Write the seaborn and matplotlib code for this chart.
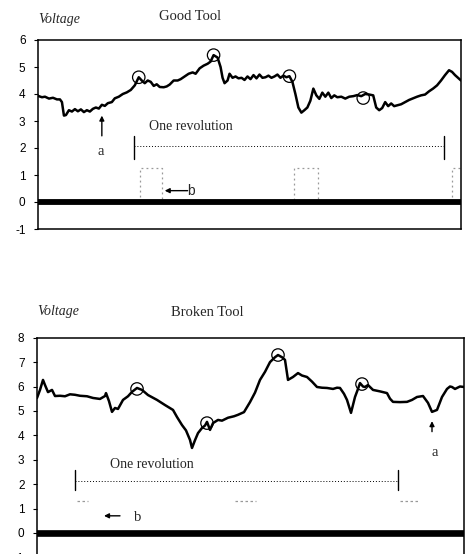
import numpy as np
import pandas as pd
import matplotlib
matplotlib.use("Agg")
import matplotlib.pyplot as plt
import seaborn as sns

# ---------------- data (sample index, voltage) ----------------
good_t = [38, 42, 45, 49, 53, 57, 60, 62, 64, 66, 69, 72, 75, 78, 81, 84, 87, 90, 93, 96,
          99, 102, 105, 108, 112, 115, 119, 123, 127, 131, 135, 139, 142, 145, 148, 151,
          154, 157, 160, 164, 167, 170, 174, 178, 181, 185, 189, 193, 196, 200, 204, 208,
          211, 214, 218, 221, 223, 225, 228, 230, 233, 236, 239, 242, 245, 248, 251, 254,
          257, 260, 263, 266, 269, 272, 275, 278, 281, 284, 287, 290, 293, 296, 299, 302,
          305, 308, 311, 314, 317, 320, 323, 326, 329, 332, 335, 338, 342, 346, 350, 354,
          358, 362, 366, 370, 374, 377, 380, 383, 386, 389, 392, 395, 398, 402, 406, 410,
          414, 418, 422, 426, 430, 434, 438, 442, 446, 450, 453, 456, 459, 462]
good_v = [3.93, 3.88, 3.90, 3.83, 3.86, 3.80, 3.80, 3.70, 3.20, 3.22, 3.40, 3.35, 3.44,
          3.36, 3.43, 3.33, 3.40, 3.35, 3.45, 3.50, 3.46, 3.60, 3.56, 3.66, 3.70, 3.84,
          3.90, 4.00, 4.06, 4.15, 4.32, 4.62, 4.50, 4.40, 4.50, 4.45, 4.30, 4.36, 4.26,
          4.25, 4.28, 4.35, 4.50, 4.50, 4.55, 4.65, 4.75, 4.80, 4.75, 4.95, 5.05, 5.12,
          5.20, 5.44, 5.35, 5.00, 4.60, 4.40, 4.50, 4.75, 4.60, 4.65, 4.58, 4.60, 4.52,
          4.65, 4.55, 4.70, 4.58, 4.72, 4.60, 4.62, 4.68, 4.60, 4.65, 4.72, 4.60, 4.68,
          4.62, 4.66, 4.45, 4.00, 3.50, 3.31, 3.40, 3.50, 3.75, 4.20, 3.95, 3.82, 4.05,
          3.90, 4.05, 3.85, 3.95, 3.88, 3.90, 3.83, 3.90, 3.92, 3.96, 3.92, 4.00, 3.98,
          3.95, 3.50, 3.40, 3.48, 3.70, 3.55, 3.65, 3.55, 3.58, 3.62, 3.70, 3.78, 3.84,
          3.90, 3.95, 3.98, 4.10, 4.20, 4.32, 4.50, 4.70, 4.88, 4.82, 4.70, 4.60, 4.50]
good_circle_t = [139, 214, 290, 364]
good_circle_v = [4.62, 5.44, 4.66, 3.85]

broken_t = [37, 40, 43, 45, 48, 52, 55, 60, 65, 70, 75, 80, 87, 93, 100, 105, 106, 109,
            112, 115, 118, 123, 128, 132, 137, 142, 148, 157, 165, 173, 177, 182, 186,
            190, 192, 195, 198, 202, 205, 207, 210, 213, 218, 222, 228, 234, 238, 244,
            250, 255, 260, 265, 270, 275, 278, 282, 285, 288, 293, 298, 302, 307, 312,
            317, 322, 327, 333, 337, 340, 344, 347, 351, 355, 358, 360, 363, 365, 368,
            373, 380, 387, 390, 393, 400, 407, 412, 417, 423, 428, 432, 437, 442, 447,
            450, 452, 455, 457, 460, 464]
broken_v = [5.53, 5.86, 6.27, 6.06, 5.77, 5.86, 5.61, 5.62, 5.60, 5.68, 5.66, 5.62, 5.60,
            5.53, 5.49, 5.61, 5.73, 5.40, 4.96, 5.12, 5.08, 5.45, 5.60, 5.78, 5.94, 5.86,
            5.65, 5.45, 5.24, 5.04, 4.75, 4.42, 4.20, 3.81, 3.48, 3.80, 4.09, 4.30, 4.40,
            4.55, 4.22, 4.50, 4.63, 4.60, 4.72, 4.78, 4.84, 4.95, 5.36, 5.75, 6.27, 6.60,
            7.00, 7.20, 7.29, 7.20, 7.09, 6.27, 6.39, 6.55, 6.45, 6.39, 6.20, 5.98, 5.95,
            5.94, 5.90, 5.95, 5.94, 5.70, 5.45, 4.92, 5.57, 5.90, 6.14, 6.00, 5.98, 6.06,
            5.86, 5.80, 5.73, 5.50, 5.37, 5.36, 5.37, 5.45, 5.57, 5.61, 5.33, 4.96, 5.04,
            5.57, 5.90, 6.00, 5.98, 5.90, 5.94, 6.00, 5.98]
broken_circle_t = [137, 207, 278, 362]
broken_circle_v = [5.90, 4.50, 7.29, 6.10]

# reference pulse signal (b)
good_pulse_t = [38, 140, 140, 162, 162, 295, 295, 319, 319, 453, 453, 462]
good_pulse_v = [0.08, 0.08, 1.25, 1.25, 0.08, 0.08, 1.25, 1.25, 0.08, 0.08, 1.25, 1.25]
broken_pulse_segments = [(77, 88), (235, 256), (400, 418)]
broken_pulse_level = 1.32

good_yticks = [-1, 0, 1, 2, 3, 4, 5, 6]
broken_yticks = [-1, 0, 1, 2, 3, 4, 5, 6, 7, 8]

# ---------------- figure ----------------
sns.set_style("ticks")
plt.rcParams['font.family'] = ['Liberation Sans', 'DejaVu Sans']

W, H = 466, 554
fig = plt.figure(figsize=(W / 100, H / 100), dpi=100)
fig.patch.set_facecolor("white")

serif = "Liberation Serif"

ax1 = fig.add_axes([38 / W, 1 - 229 / H, (461 - 38) / W, (229 - 40) / H])
ax2 = fig.add_axes([37 / W, 1 - 557.3 / H, (464 - 37) / W, (557.3 - 337.7) / H])

arrow_kw = dict(arrowstyle="-|>", color="black", lw=1.0, mutation_scale=7,
                shrinkA=0, shrinkB=0)

def style_axes(ax, ticks, xlim, ylim):
    ax.set_xlim(*xlim)
    ax.set_ylim(*ylim)
    ax.set_yticks(ticks)
    ax.set_yticklabels([str(t) for t in ticks], fontsize=8.5)
    ax.set_xticks([])
    ax.tick_params(axis='y', length=3, width=0.8, pad=6, colors='black')
    for s in ax.spines.values():
        s.set_visible(True)
        s.set_linewidth(1.1)
        s.set_color('black')
    ax.set_xlabel("")
    ax.set_ylabel("")

# ---- Good tool ----
df_good = pd.DataFrame({"t": good_t, "v": good_v})
sns.lineplot(data=df_good, x="t", y="v", ax=ax1, color="black", lw=1.8, sort=False)
ax1.plot(good_pulse_t, good_pulse_v, color="#999999", lw=0.9, ls=(0, (1.5, 2.5)))
ax1.axhline(0, color="black", lw=4.2, zorder=3)
sns.scatterplot(x=good_circle_t, y=good_circle_v, ax=ax1, marker="o", s=80,
                facecolors="none", edgecolor="black", linewidth=0.9, zorder=5)
style_axes(ax1, good_yticks, (38, 462), (-1, 6))

ax1.text(191, 2.79, "One revolution", family=serif, fontsize=10, ha="center", va="center")
ax1.plot([134, 445], [2.08, 2.08], color="black", lw=0.7, ls=(0, (1, 2)))
ax1.plot([134, 134], [1.6, 2.45], color="black", lw=1.0)
ax1.plot([445, 445], [1.6, 2.45], color="black", lw=1.0)
ax1.annotate("", xy=(102, 3.2), xytext=(102, 2.45), arrowprops=arrow_kw)
ax1.text(101, 1.86, "a", family=serif, fontsize=10.5, ha="center", va="center")
ax1.annotate("", xy=(165, 0.42), xytext=(188, 0.42), arrowprops=arrow_kw)
ax1.text(188, 0.42, "b", fontsize=10, ha="left", va="center")

fig.text(38 / W, 1 - 20 / H, "Voltage", family=serif, style="italic", fontsize=10,
         ha="left", va="center")
fig.text(190 / W, 1 - 17 / H, "Good Tool", family=serif, fontsize=10.5,
         ha="center", va="center")

# ---- Broken tool ----
df_broken = pd.DataFrame({"t": broken_t, "v": broken_v})
sns.lineplot(data=df_broken, x="t", y="v", ax=ax2, color="black", lw=1.8, sort=False)
for a, b in broken_pulse_segments:
    ax2.plot([a, b], [broken_pulse_level, broken_pulse_level], color="#999999",
             lw=0.9, ls=(0, (2, 2)))
ax2.axhline(0, color="black", lw=4.8, zorder=3)
sns.scatterplot(x=broken_circle_t, y=broken_circle_v, ax=ax2, marker="o", s=80,
                facecolors="none", edgecolor="black", linewidth=0.9, zorder=5)
style_axes(ax2, broken_yticks, (37, 464), (-1, 8))

ax2.text(152, 2.82, "One revolution", family=serif, fontsize=10, ha="center", va="center")
ax2.plot([75, 398], [2.14, 2.14], color="black", lw=0.7, ls=(0, (1, 2)))
ax2.plot([75, 75], [1.76, 2.57], color="black", lw=1.0)
ax2.plot([398, 398], [1.76, 2.57], color="black", lw=1.0)
ax2.annotate("", xy=(432, 4.58), xytext=(432, 4.15), arrowprops=arrow_kw)
ax2.text(435, 3.3, "a", family=serif, fontsize=10.5, ha="center", va="center")
ax2.annotate("", xy=(104, 0.7), xytext=(120, 0.7), arrowprops=arrow_kw)
ax2.text(138, 0.62, "b", family=serif, fontsize=10.5, ha="center", va="center")

fig.text(37 / W, 1 - 312 / H, "Voltage", family=serif, style="italic", fontsize=10,
         ha="left", va="center")
fig.text(207 / W, 1 - 312 / H, "Broken Tool", family=serif, fontsize=10.5,
         ha="center", va="center")

fig.savefig("out.png", dpi=100, facecolor="white")
